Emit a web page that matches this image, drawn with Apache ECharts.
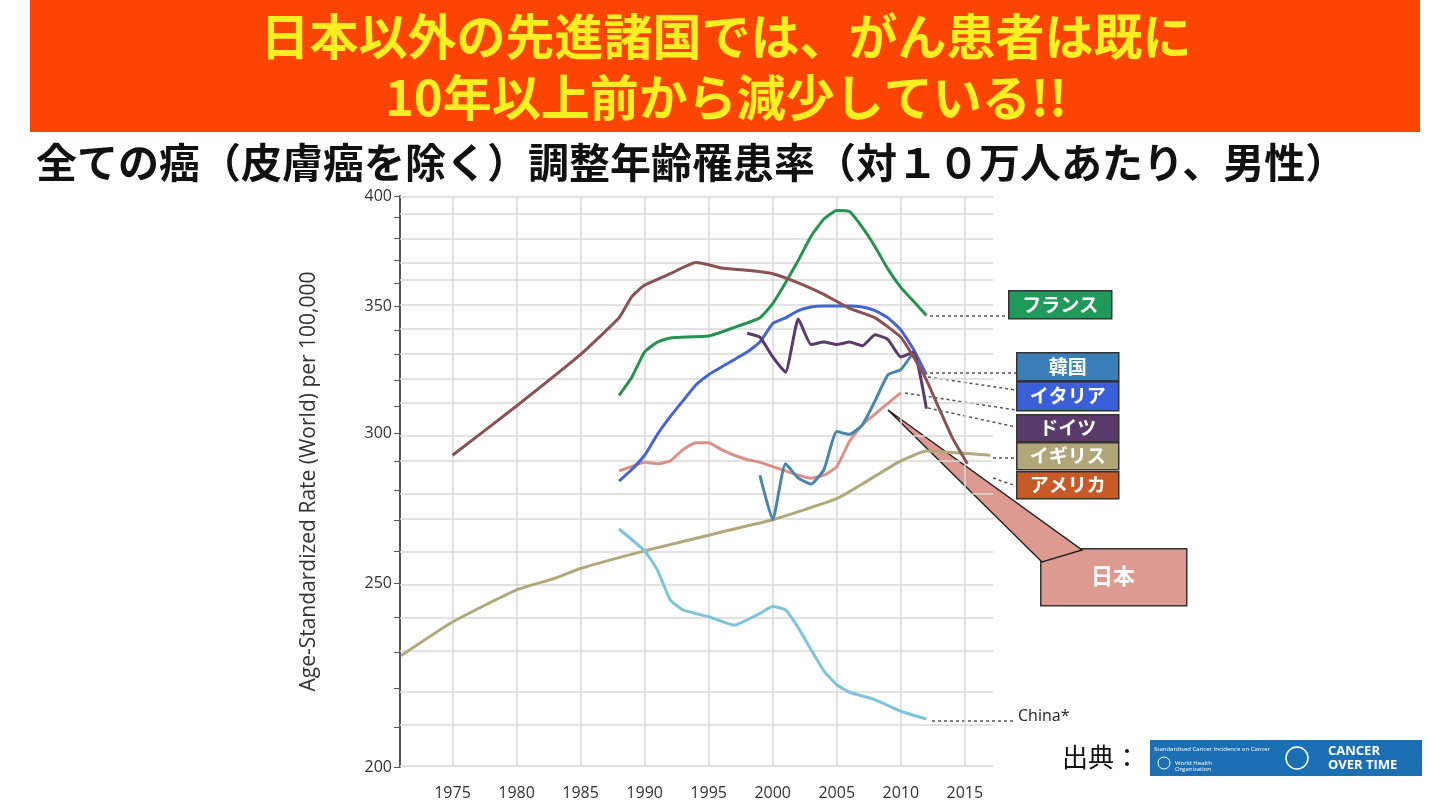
<!DOCTYPE html>
<html><head><meta charset="utf-8">
<script src="https://cdn.jsdelivr.net/npm/echarts@6/dist/echarts.min.js"></script>
<style>html,body{margin:0;padding:0;background:#fff}#c{width:1440px;height:811px}</style>
</head><body><div id="c"></div>
<script>
const yTickLabels = [200, 250, 300, 350, 400];
const yGrid = [200,210,220,230,240,250,260,270,280,290,300,310,320,330,340,350,360,370,380,390,400];
const xTickLabels = [1975,1980,1985,1990,1995,2000,2005,2010,2015];
const usa = [[1975,292],[1980,310],[1985,330],[1988,345],[1989,354],[1990,359],[1992,364],[1994,369],[1995,368],[1996,366.5],[1998,365.5],[2000,364],[2002,360],[2004,355],[2006,349],[2008,345],[2010,337],[2011,329],[2012,320],[2013,309],[2014,298.5],[2015.2,289]];
const france = [[1988,314],[1989,321],[1990,331],[1991,335],[1992,336.7],[1995,337.5],[1997,341],[1999,345],[2000,351],[2001,360],[2002,370],[2003,381],[2004,389],[2005,393],[2006,392.5],[2007,385],[2008,376],[2009,366],[2010,358],[2011,352],[2012,346]];
const italy = [[1988,283],[1989,287],[1990,292],[1991,299.5],[1992,306],[1993,312],[1994,318],[1995,322],[1996,325],[1998,331],[1999,335],[2000,342.6],[2001,345],[2002,348],[2003,349.6],[2004,350],[2005,350],[2006,350],[2007,349.6],[2008,348],[2009,345],[2010,340],[2011,332],[2012,322]];
const germany = [[1998,338.6],[1999,337],[2000,329],[2001,323],[2002,344.5],[2003,334],[2004,335],[2005,334],[2006,335],[2007,333.5],[2008,338],[2009,336],[2010,329],[2011,331],[2012,309]];
const korea = [[1999,285],[2000,270],[2001,289],[2002,284],[2003,282],[2004,287],[2005,300.5],[2006,299.5],[2007,303],[2008,312],[2009,322],[2010,324],[2011,331]];
const japan = [[1988,286.5],[1989,288],[1990,289.5],[1991,289],[1992,290],[1993,294],[1994,296.5],[1995,296.5],[1996,294],[1997,292],[1998,290.5],[1999,289.5],[2000,288],[2001,286.5],[2002,285],[2003,284],[2004,285],[2005,288],[2006,297],[2007,303],[2008,307],[2009,311],[2010,315]];
const uk = [[1971,229],[1975,238.5],[1980,248],[1983,251.5],[1985,254.5],[1990,260],[1995,265],[1997,267],[2000,270],[2005,277],[2007,282],[2010,290],[2012,293.5],[2014,293],[2017,292]];
const china = [[1988,267],[1990,260],[1991,254],[1992,245],[1993,242],[1995,240],[1997,237.6],[1999,241],[2000,243],[2001,242],[2002,236.8],[2003,230.6],[2004,224.7],[2005,221],[2006,219],[2008,217],[2010,214],[2012,212]];

const L = v => Math.log(v);
const tr = a => a.map(p => [p[0], L(p[1])]);
const mk = (name, data, color) => ({type:'line', name, data: tr(data), symbol:'none', smooth:0.15, lineStyle:{color, width:3}, z:5});

const chart = echarts.init(document.getElementById('c'));
const gridLines = {type:'line', data:[], silent:true, markLine:{silent:true, symbol:'none', label:{show:false},
  lineStyle:{color:'#d9d9d9', type:'solid', width:1.5},
  data: yGrid.map(v=>({yAxis:L(v)})).concat(xTickLabels.map(x=>({xAxis:x})))}};
const box = (x,y,w,h,fill,t) => ({type:'group', left:x, top:y, children:[
  {type:'rect', shape:{x:0,y:0,width:w,height:h}, style:{fill, stroke:'#333', lineWidth:1.5}},
  {type:'text', x:w/2, y:h/2, style:{text:t, fill:'#fff', font:'bold 19px "Noto Sans CJK JP"', align:'center', verticalAlign:'middle'}}]});
const dl = (x1,y1,x2,y2) => ({type:'line', shape:{x1,y1,x2,y2}, style:{stroke:'#555', lineWidth:1.5, lineDash:[3,3]}});

chart.setOption({
  animation:false,
  grid:{left:400, right:447, top:196, bottom:44},
  xAxis:{type:'value', min:1970.9, max:2017.2, splitLine:{show:false},
    axisLine:{show:false}, axisTick:{show:false},
    axisLabel:{customValues:xTickLabels, formatter:v=>String(v), color:'#333', fontSize:16, margin:18, fontFamily:'Open Sans'}},
  yAxis:{type:'value', min:L(200), max:L(400), splitLine:{show:false},
    axisLine:{show:true, lineStyle:{color:'#555', width:2}},
    axisTick:{show:true, customValues:yGrid.map(L), inside:false, length:6, lineStyle:{color:'#555'}},
    axisLabel:{customValues:yTickLabels.map(L), formatter:v=>String(Math.round(Math.exp(v))), color:'#333', fontSize:16, fontFamily:'Open Sans'},
    name:'Age-Standardized Rate (World) per 100,000', nameLocation:'middle', nameGap:80, nameRotate:90,
    nameTextStyle:{fontSize:21, color:'#333', fontFamily:'Open Sans'}},
  series:[gridLines,
    mk('UK', uk, '#b2a87c'), mk('China', china, '#7ec5da'), mk('Japan', japan, '#d99189'),
    mk('Korea', korea, '#4a86aa'), mk('Italy', italy, '#4566d2'), mk('Germany', germany, '#5b3a6e'),
    mk('France', france, '#27924f'), mk('USA', usa, '#8a5252')],
  graphic:[
    {type:'rect', shape:{x:30,y:0,width:1390,height:132}, style:{fill:'#fc4403'}},
    {type:'text', x:726, y:36, style:{text:'日本以外の先進諸国では、がん患者は既に', fill:'#ffee22', font:'bold 49px "Noto Sans CJK JP"', align:'center', verticalAlign:'middle'}},
    {type:'text', x:726, y:97, style:{text:'10年以上前から減少している!!', fill:'#ffee22', font:'bold 49px "Noto Sans CJK JP"', align:'center', verticalAlign:'middle'}},
    {type:'text', x:36, y:162, style:{text:'全ての癌（皮膚癌を除く）調整年齢罹患率（対１０万人あたり、男性）', fill:'#111', font:'bold 41px "Noto Sans CJK JP"', align:'left', verticalAlign:'middle'}},
    dl(930,316,1008,316), dl(930,373,1016,373), dl(928,377,1016,390), dl(905,393,1016,410), dl(928,408,1016,427),
    dl(993,458,1016,458), dl(993,478,1016,486), dl(932,721,1014,721),
    box(1008,290,103,28,'#1f9a5a','フランス'), box(1016,352,102,28,'#3a7fb8','韓国'),
    box(1016,381,102,29,'#3b5fd8','イタリア'), box(1016,414,102,27,'#5a3a6a','ドイツ'),
    box(1016,442,102,27,'#b0a67a','イギリス'), box(1016,471,102,27,'#c85a28','アメリカ'),
    box(1040,548,146,57,'#dc9a90',''),
    {type:'polygon', shape:{points:[[888,410],[1042,562],[1082,550]]}, style:{fill:'#dc9a90', stroke:'#222', lineWidth:1.5}},
    {type:'text', x:1113, y:576, style:{text:'日本', fill:'#fff', font:'bold 22px "Noto Sans CJK JP"', align:'center', verticalAlign:'middle'}},
    {type:'text', x:1018, y:716, style:{text:'China*', fill:'#222', font:'16px "Open Sans"', verticalAlign:'middle'}},
    {type:'text', x:1062, y:757, style:{text:'出典：', fill:'#111', font:'26px "Noto Sans CJK JP"', verticalAlign:'middle'}},
    {type:'rect', shape:{x:1150,y:740,width:272,height:36}, style:{fill:'#1c6fb2'}},
    {type:'text', x:1154, y:746, style:{text:'Standardised Cancer Incidence on Cancer', fill:'#fff', font:'6px "Open Sans"'}},
    {type:'text', x:1175, y:760, style:{text:'World Health\nOrganization', fill:'#fff', font:'6px "Open Sans"'}},
    {type:'circle', shape:{cx:1164,cy:763,r:6}, style:{fill:'none', stroke:'#fff', lineWidth:1}},
    {type:'circle', shape:{cx:1297,cy:758,r:11}, style:{fill:'none', stroke:'#fff', lineWidth:1.5}},
    {type:'text', x:1328, y:758, style:{text:'CANCER\nOVER TIME', fill:'#fff', font:'bold 13px "Open Sans"', verticalAlign:'middle', lineHeight:14}}
  ]
});
</script></body></html>
